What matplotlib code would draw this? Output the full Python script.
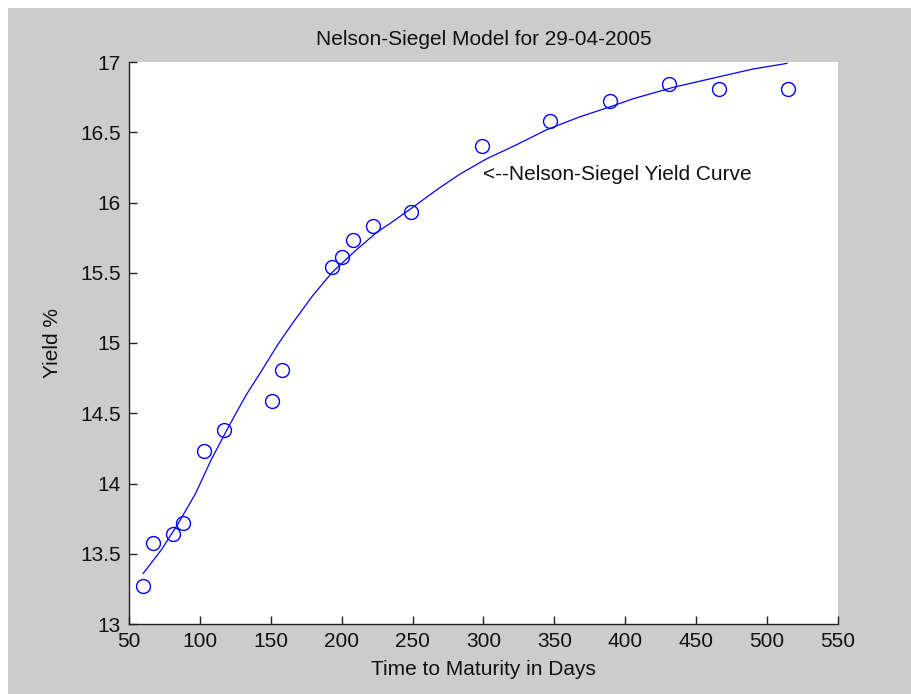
import matplotlib
matplotlib.use("Agg")
import matplotlib.pyplot as plt
from matplotlib.patches import Rectangle

# observed yields (days to maturity, yield %)
maturity_days = [60, 67, 81, 88, 103, 117, 151, 158, 193, 200, 208, 222,
                 249, 299, 347, 389, 431, 466, 515]
yield_pct = [13.27, 13.58, 13.64, 13.72, 14.23, 14.38, 14.59, 14.81, 15.54,
             15.61, 15.73, 15.83, 15.93, 16.40, 16.58, 16.72, 16.84, 16.81, 16.81]

# fitted Nelson-Siegel curve
curve_days = [60, 73, 85, 97, 108, 120, 132, 144, 155, 166, 179, 193, 210,
              225, 234, 248, 267, 283, 302, 321, 345, 368, 389, 406, 434,
              464, 490, 514]
curve_yield = [13.36, 13.53, 13.72, 13.93, 14.17, 14.40, 14.62, 14.81,
               14.99, 15.15, 15.33, 15.50, 15.66, 15.79, 15.85, 15.95,
               16.09, 16.20, 16.31, 16.40, 16.52, 16.61, 16.68, 16.74,
               16.82, 16.89, 16.95, 16.99]

x_ticks = [50, 100, 150, 200, 250, 300, 350, 400, 450, 500, 550]
y_ticks = [13, 13.5, 14, 14.5, 15, 15.5, 16, 16.5, 17]

plt.rcParams['font.family'] = ['Liberation Sans', 'DejaVu Sans']
plt.rcParams['font.size'] = 15

fig = plt.figure(figsize=(9.12, 6.94), dpi=100, facecolor='white')
# grey figure panel with thin white strip top/left
fig.patches.append(Rectangle((8 / 912, 0), 1, 1 - 8 / 694, transform=fig.transFigure,
                             facecolor='#cccccc', edgecolor='none', zorder=-10))

ax = fig.add_axes([129 / 912, 70 / 694, 709 / 912, 562 / 694])
ax.set_facecolor('white')

ax.plot(curve_days, curve_yield, color='#0000ff', linewidth=0.9)
ax.plot(maturity_days, yield_pct, linestyle='none', marker='o', markersize=10,
        markerfacecolor='none', markeredgecolor='#0000ff', markeredgewidth=1.0)

ax.text(300, 16.2, '<--Nelson-Siegel Yield Curve', va='center', ha='left',
        color='#111111')

ax.set_xlim(50, 550)
ax.set_ylim(13, 17)
ax.set_xticks(x_ticks)
ax.set_yticks(y_ticks)
ax.set_yticklabels(['%g' % v for v in y_ticks])

for s in ['top', 'right']:
    ax.spines[s].set_visible(False)
for s in ['left', 'bottom']:
    ax.spines[s].set_color('#222222')
    ax.spines[s].set_linewidth(1.0)

ax.tick_params(direction='in', length=6, width=1, color='#222222',
               labelcolor='#111111')
ax.tick_params(axis='y', pad=6)
ax.tick_params(axis='x', pad=6)

ax.set_title('Nelson-Siegel Model for 29-04-2005', pad=12, color='#111111',
             fontsize=15)
ax.set_xlabel('Time to Maturity in Days', color='#111111')
ax.set_ylabel('Yield %', color='#111111')
ax.xaxis.set_label_coords(0.5, -0.064)
ax.yaxis.set_label_coords(-0.095, 0.5)

fig.savefig('out.png', dpi=100, facecolor=fig.get_facecolor())
